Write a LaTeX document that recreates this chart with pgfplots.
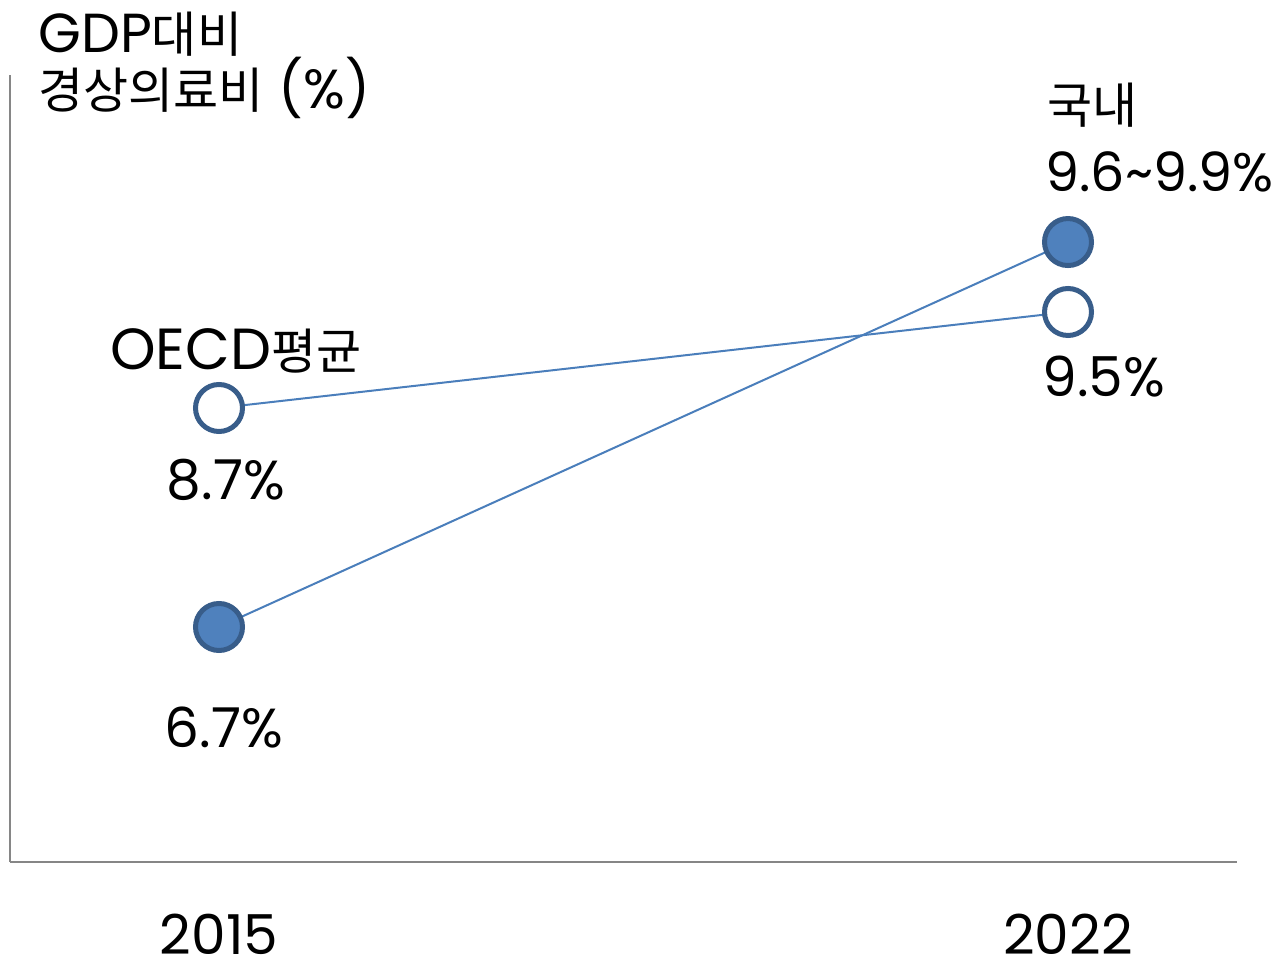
\documentclass[border=0pt]{standalone}
\usepackage{pgfplots}
\pgfplotsset{compat=1.18}
\usepackage{fontspec}
\setmainfont{Poppins}
\newfontfamily\kr{Noto Sans CJK KR}
\definecolor{linec}{HTML}{4A7EBB}
\definecolor{markb}{HTML}{385D8A}
\definecolor{markf}{HTML}{4F81BD}
\definecolor{axisc}{HTML}{868686}
\newcommand{\bigf}{\fontsize{27.5}{30}\selectfont}
\newcommand{\K}[1]{{\kr\fontsize{24.5}{30}\selectfont #1}}
\tikzset{lab/.style={inner sep=0pt, font=\bigf, text height=19pt, text depth=1pt}}
\begin{document}
\begin{tikzpicture}[x=1pt,y=1pt]
\useasboundingbox (0,0) rectangle (637.5,481.5);
\begin{axis}[
 at={(5pt,50.5pt)}, anchor=south west, scale only axis,
 width=613.5pt, height=393.5pt,
 xmin=2013.2768, xmax=2023.3934, ymin=4.9167, ymax=11.475,
 axis x line=bottom, axis y line=left,
 axis line style={-, axisc, line width=1.2pt},
 ytick=\empty, xtick={2015,2022}, xticklabels={2015,2022},
 major tick length=0pt,
 xticklabel style={anchor=base, yshift=-46.5pt, font=\bigf, inner sep=0pt, text depth=0pt},
 clip=false,
]
% OECD average
\addplot[linec, line width=1pt, mark=*, mark size=11.75pt,
  mark options={fill=white, draw=markb, line width=2.5pt}]
  coordinates {(2015,8.7) (2022,9.5)};
% domestic
\addplot[linec, line width=1pt, mark=*, mark size=11.75pt,
  mark options={fill=markf, draw=markb, line width=2.5pt}]
  coordinates {(2015,6.875) (2022,10.083)};
\end{axis}
\node[lab, anchor=base west] at (19,455) {GDP\K{대비}};
\node[lab, anchor=base west] at (19,427) {\K{경상의료비} (\%)};
\node[lab, anchor=base west] at (55,296.5) {{\fontsize{29}{30}\selectfont OECD}\K{평균}};
\node[lab, anchor=base] at (113,231.5) {8.7\%};
\node[lab, anchor=base] at (112,107.5) {6.7\%};
\node[lab, anchor=base west] at (523.5,419.5) {\K{국내}};
\node[lab, anchor=base west, font=\fontsize{27}{30}\selectfont] at (522.5,385.5) {9.6\textasciitilde 9.9\%};
\node[lab, anchor=base west] at (521,283) {9.5\%};
\end{tikzpicture}
\end{document}
